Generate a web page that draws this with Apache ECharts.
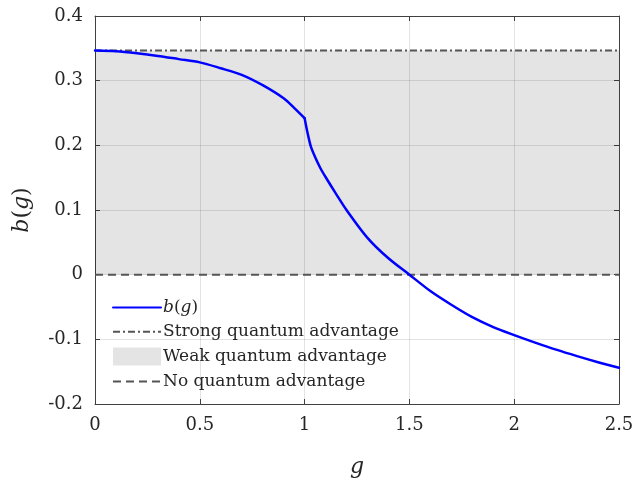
<!DOCTYPE html>
<html>
<head>
<meta charset="utf-8">
<script src="https://cdn.jsdelivr.net/npm/echarts@6/dist/echarts.min.js"></script>
<style>html,body{margin:0;padding:0;background:#fff;}#c{width:637px;height:483px;}</style>
</head>
<body>
<div id="c"></div>
<script>
// ---- data ----
const gValues = [0, 0.1, 0.2, 0.3, 0.4, 0.5, 0.6, 0.7, 0.8, 0.9, 0.95, 1.0, 1.015, 1.03, 1.05, 1.075, 1.1, 1.15, 1.2, 1.3, 1.4, 1.5, 1.6, 1.7, 1.8, 1.9, 2.0, 2.1, 2.2, 2.3, 2.4, 2.5];
const bValues = [0.3466, 0.3455, 0.3424, 0.3383, 0.3333, 0.3283, 0.3192, 0.309, 0.293, 0.2727, 0.258, 0.242, 0.218, 0.198, 0.182, 0.165, 0.151, 0.125, 0.100, 0.057, 0.0253, 0.0, -0.0253, -0.0465, -0.0657, -0.081, -0.0934, -0.105, -0.116, -0.126, -0.1354, -0.144];
const kinkG = 1.0;
const strongLevel = 0.3466;
const noLevel = 0;
const xRange = [0, 2.5];
const yRange = [-0.2, 0.4];
const seriesNames = ['b(g)', 'Strong quantum advantage', 'Weak quantum advantage', 'No quantum advantage'];

const FONT = 'DejaVu Serif';
const TXT = '#262626';
const AX = '#404040';
const SHADE = 'rgba(0,0,0,0.105)';

const curve = gValues.map((g, i) => [g, bValues[i]]);
const curveLeft = curve.filter(p => p[0] <= kinkG);
const curveRight = curve.filter(p => p[0] >= kinkG);
const fmt = v => String(v);

const chart = echarts.init(document.getElementById('c'), null, {renderer: 'canvas'});
const rich = {
  i: {fontFamily: FONT, fontStyle: 'italic', fontSize: 17, color: TXT},
  n: {fontFamily: FONT, fontSize: 17, color: TXT}
};
const richBig = {
  i: {fontFamily: FONT, fontStyle: 'italic', fontSize: 22, color: TXT},
  n: {fontFamily: FONT, fontSize: 22, color: TXT}
};
const blueLine = (data) => ({
  name: seriesNames[0], type: 'line', symbol: 'none', z: 5,
  data: data, smooth: 0.3,
  itemStyle: {color: '#0000ff'},
  lineStyle: {color: '#0000ff', width: 2.5, join: 'round', cap: 'round'}
});
chart.setOption({
  animation: false,
  backgroundColor: '#fff',
  grid: {left: 95, right: 18, top: 16, bottom: 71, containLabel: false},
  legend: {
    orient: 'vertical', left: 112, top: 299, padding: 0,
    itemWidth: 48, itemHeight: 18, itemGap: 7.3,
    itemStyle: {opacity: 0},
    data: [
      {name: seriesNames[0]},
      {name: seriesNames[1]},
      {name: seriesNames[2], icon: 'rect', itemStyle: {opacity: 1, color: SHADE}},
      {name: seriesNames[3]}
    ],
    formatter: n => n === 'b(g)' ? '{i|b}{n|(}{i|g}{n|)}' : '{n|' + n + '}',
    textStyle: {fontFamily: FONT, fontSize: 17, color: TXT, rich: rich, padding: [0, 0, 0, -3]}
  },
  xAxis: [{
    type: 'value', min: xRange[0], max: xRange[1], interval: 0.5,
    name: '{i|g}', nameLocation: 'middle', nameGap: 52,
    nameTextStyle: {rich: richBig},
    axisLine: {show: true, onZero: false, lineStyle: {color: AX, width: 1}},
    axisTick: {show: true, inside: true, length: 5, lineStyle: {color: AX}},
    axisLabel: {fontFamily: FONT, fontSize: 18, color: TXT, margin: 12, formatter: fmt},
    splitLine: {show: true, lineStyle: {color: 'rgba(0,0,0,0.11)', width: 1}}
  }, {
    type: 'value', min: xRange[0], max: xRange[1], interval: 0.5, position: 'top',
    axisLine: {show: true, onZero: false, lineStyle: {color: AX, width: 1}},
    axisTick: {show: true, inside: true, length: 5, lineStyle: {color: AX}},
    axisLabel: {show: false}, splitLine: {show: false}
  }],
  yAxis: [{
    type: 'value', min: yRange[0], max: yRange[1], interval: 0.1,
    name: '{i|b}{n|(}{i|g}{n|)}', nameLocation: 'middle', nameGap: 62, nameRotate: 90,
    nameTextStyle: {rich: richBig},
    axisLine: {show: true, onZero: false, lineStyle: {color: AX, width: 1}},
    axisTick: {show: true, inside: true, length: 5, lineStyle: {color: AX}},
    axisLabel: {fontFamily: FONT, fontSize: 18, color: TXT, margin: 12,
      formatter: v => fmt(Math.round(v * 10) / 10)},
    splitLine: {show: true, lineStyle: {color: 'rgba(0,0,0,0.11)', width: 1}}
  }, {
    type: 'value', min: yRange[0], max: yRange[1], interval: 0.1, position: 'right',
    axisLine: {show: true, onZero: false, lineStyle: {color: AX, width: 1}},
    axisTick: {show: true, inside: true, length: 5, lineStyle: {color: AX}},
    axisLabel: {show: false}, splitLine: {show: false}
  }],
  series: [
    {
      name: seriesNames[2], type: 'line', data: [], symbol: 'none',
      itemStyle: {color: SHADE},
      lineStyle: {width: 0},
      markArea: {silent: true, itemStyle: {color: SHADE},
        data: [[{yAxis: noLevel}, {yAxis: strongLevel}]]}
    },
    {
      name: seriesNames[1], type: 'line', symbol: 'none',
      data: [[xRange[0], strongLevel], [xRange[1], strongLevel]],
      itemStyle: {color: '#555'},
      lineStyle: {color: '#555', width: 2, type: [7, 3, 2, 3]}
    },
    {
      name: seriesNames[3], type: 'line', symbol: 'none',
      data: [[xRange[0], noLevel], [xRange[1], noLevel]],
      itemStyle: {color: '#555'},
      lineStyle: {color: '#555', width: 2, type: [8, 5]}
    },
    blueLine(curveLeft),
    blueLine(curveRight)
  ]
});
</script>
</body>
</html>
